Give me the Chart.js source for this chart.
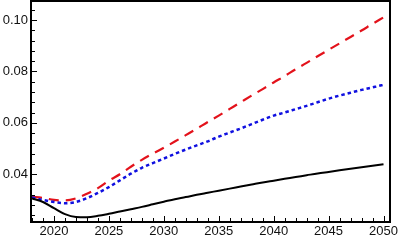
<!DOCTYPE html>
<html>
<head>
<meta charset="utf-8">
<script src="https://cdn.jsdelivr.net/npm/chart.js@4/dist/chart.umd.min.js"></script>
<style>
html,body{margin:0;padding:0;background:#fff;}
#wrap{width:400px;height:243px;position:relative;}
</style>
</head>
<body>
<div id="wrap"><canvas id="c" width="400" height="243"></canvas></div>
<script>
const years = [2018,2019,2020,2021,2022,2023,2024,2025,2026,2027,2028,2029,2030,2031,2032,2033,2034,2035,2036,2037,2038,2039,2040,2041,2042,2043,2044,2045,2046,2047,2048,2049,2050];
const blackSeries = [0.0306,0.0292,0.0268,0.0245,0.0234,0.0233,0.0238,0.0246,0.0255,0.0264,0.0273,0.0283,0.0293,0.0303,0.0311,0.0320,0.0328,0.0336,0.0344,0.0352,0.0360,0.0368,0.0375,0.0382,0.0389,0.0396,0.0403,0.0409,0.0415,0.0421,0.0427,0.0433,0.0439];
const redSeries = [0.0312,0.0308,0.0300,0.0298,0.0306,0.0324,0.0346,0.0375,0.0400,0.0429,0.0456,0.0480,0.0503,0.0527,0.0552,0.0577,0.0603,0.0628,0.0654,0.0680,0.0706,0.0731,0.0757,0.0782,0.0808,0.0833,0.0859,0.0884,0.0909,0.0934,0.0959,0.0985,0.1010];
const blueSeries = [0.0310,0.0300,0.0292,0.0287,0.0292,0.0307,0.0327,0.0350,0.0376,0.0402,0.0425,0.0443,0.0461,0.0479,0.0496,0.0512,0.0528,0.0546,0.0562,0.0578,0.0595,0.0612,0.0628,0.0640,0.0653,0.0666,0.0680,0.0694,0.0706,0.0717,0.0728,0.0738,0.0748];
const xTickLabels = [2020,2025,2030,2035,2040,2045,2050];
const yTickLabels = [0.04,0.06,0.08,0.10];

const toPts = (arr) => arr.map((v,i)=>({x:years[i], y:v}));

const framePlugin = {
  id:'frame',
  afterDatasetsDraw(chart){
    const {ctx, chartArea:a, scales} = chart;
    ctx.save();
    ctx.strokeStyle = '#000';
    ctx.lineWidth = 1;
    const xs = scales.x;
    for (let yr = 2018; yr <= 2050; yr++) {
      const px = Math.round(xs.getPixelForValue(yr)) + 0.5;
      const major = yr % 5 === 0;
      const len = major ? 5 : 3;
      ctx.beginPath(); ctx.moveTo(px, a.bottom); ctx.lineTo(px, a.bottom - len); ctx.stroke();
    }
    const ys = scales.y;
    for (let k = 6; k <= 26; k++) {
      const v = k * 0.004;
      if (v < ys.min || v > ys.max) continue;
      const py = Math.round(ys.getPixelForValue(v)) + 0.5;
      const major = k % 5 === 0;
      const len = major ? 5 : 3;
      ctx.beginPath(); ctx.moveTo(a.left, py); ctx.lineTo(a.left + len, py); ctx.stroke();
    }
    ctx.lineWidth = 2;
    ctx.strokeRect(a.left - 1, a.top - 1, a.right - a.left + 2, a.bottom - a.top + 2);
    ctx.restore();
  }
};

new Chart(document.getElementById('c'), {
  type:'line',
  data:{
    datasets:[
      {data:toPts(blackSeries), borderColor:'#000', borderWidth:2, pointRadius:0, cubicInterpolationMode:'monotone'},
      {data:toPts(blueSeries), borderColor:'#1010e0', borderWidth:2.5, borderDash:[3.5,3], pointRadius:0, cubicInterpolationMode:'monotone'},
      {data:toPts(redSeries), borderColor:'#e3121b', borderWidth:2.2, borderDash:[10,7], pointRadius:0, cubicInterpolationMode:'monotone'}
    ]
  },
  options:{
    responsive:false,
    animation:false,
    devicePixelRatio:1,
    layout:{padding:{top:2,right:11,left:0,bottom:0}},
    plugins:{legend:{display:false}, tooltip:{enabled:false}},
    scales:{
      x:{
        type:'linear', min:2018, max:2050.5,
        grid:{display:false, drawTicks:false}, border:{display:false},
        afterBuildTicks(s){ s.ticks = xTickLabels.map(v=>({value:v})); },
        afterFit(s){ s.height = 22; s.paddingLeft = 0; s.paddingRight = 0; },
        ticks:{padding:3, maxRotation:0, autoSkip:false, color:'#111', font:{family:'Liberation Sans, Arial', size:13}, callback:(v)=>String(v)}
      },
      y:{
        type:'linear', min:0.0218, max:0.107,
        grid:{display:false, drawTicks:false}, border:{display:false},
        afterBuildTicks(s){ s.ticks = yTickLabels.map(v=>({value:v})); },
        afterFit(s){ s.width = 32; s.paddingTop = 0; s.paddingBottom = 0; },
        ticks:{padding:4, autoSkip:false, color:'#111', font:{family:'Liberation Sans, Arial', size:13}, callback:(v)=>Number(v).toFixed(2)}
      }
    }
  },
  plugins:[framePlugin]
});
</script>
</body>
</html>
